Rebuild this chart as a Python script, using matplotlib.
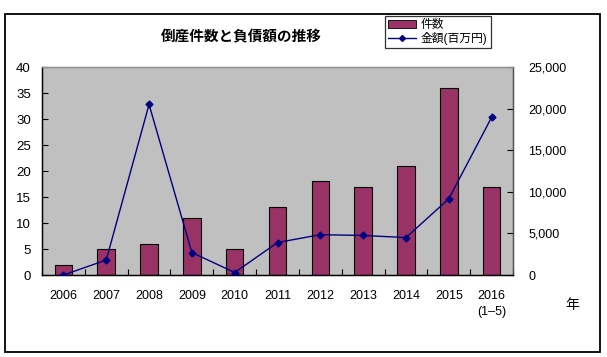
import matplotlib.pyplot as plt
from matplotlib.patches import Rectangle
from matplotlib.lines import Line2D
from matplotlib.ticker import FuncFormatter
import numpy as np

plt.rcParams['font.family'] = ['Liberation Sans', 'Noto Sans CJK JP', 'DejaVu Sans']

years = ['2006', '2007', '2008', '2009', '2010', '2011', '2012', '2013', '2014', '2015', '2016\n(1\u20135)']
counts = [2, 5, 6, 11, 5, 13, 18, 17, 21, 36, 17]
amounts = [0, 1800, 20500, 2700, 300, 3900, 4850, 4750, 4500, 9150, 18950]

bar_color = '#993366'
line_color = '#000080'

fig = plt.figure(figsize=(6.07, 3.57), dpi=100)

# outer chart frame
fig.patches.append(Rectangle((5 / 607, 1 - 352 / 357), 595 / 607, 338 / 357,
                             transform=fig.transFigure, fill=False,
                             edgecolor='black', linewidth=1.3))

ax = fig.add_axes([42 / 607, 1 - 275 / 357, 471 / 607, 208 / 357])
ax.set_facecolor('#C0C0C0')
x = np.arange(len(years))
ax.bar(x, counts, width=0.41, color=bar_color, edgecolor='black', linewidth=0.8, zorder=2)
ax.set_xlim(-0.5, len(years) - 0.5)
ax.set_ylim(0, 40)
ax.set_yticks(range(0, 41, 5))
ax.set_xticks(x)
ax.set_xticklabels(years, fontsize=9, linespacing=1.45)
ax.set_xticks(np.arange(-0.5, len(years)), minor=True)
ax.tick_params(axis='x', which='major', length=0, pad=11)
ax.tick_params(axis='x', which='minor', length=4, direction='in', width=0.8)
ax.tick_params(axis='y', direction='in', length=4, width=0.8, labelsize=9.5, pad=8)

ax2 = ax.twinx()
ax2.plot(x, amounts, color=line_color, linewidth=1, marker='D', markersize=3.5, zorder=3)
ax2.set_ylim(0, 25000)
ax2.set_yticks(range(0, 25001, 5000))
ax2.yaxis.set_major_formatter(FuncFormatter(lambda v, p: f'{int(v):,}'))
ax2.tick_params(axis='y', direction='in', length=4, width=0.8, labelsize=9, pad=11)

for a in (ax, ax2):
    a.spines['left'].set_color('black')
    a.spines['bottom'].set_color('black')
    a.spines['top'].set_color('#909090')
    a.spines['right'].set_color('#505050')
    for s in a.spines.values():
        s.set_linewidth(0.9)

fig.text(241 / 607, 1 - 37 / 357, '倒産件数と負債額の推移', ha='center', va='center',
         fontsize=10.5, fontweight='bold')
fig.text(572 / 607, 1 - 305 / 357, '年', ha='center', va='center', fontsize=10)

handles = [Rectangle((0, 0), 1, 1, facecolor=bar_color, edgecolor='black', linewidth=0.6),
           Line2D([], [], color=line_color, linewidth=1, marker='D', markersize=3)]
leg = fig.legend(handles, ['件数', '金額(百万円)'], loc='upper left',
                 bbox_to_anchor=(385 / 607, 1 - 16 / 357), fontsize=8.5,
                 frameon=True, fancybox=False, borderpad=0.25, labelspacing=0.1,
                 handlelength=2.4, handletextpad=0.4, borderaxespad=0)
leg.get_frame().set_edgecolor('black')
leg.get_frame().set_linewidth(0.9)

fig.savefig('out.png', dpi=100)
